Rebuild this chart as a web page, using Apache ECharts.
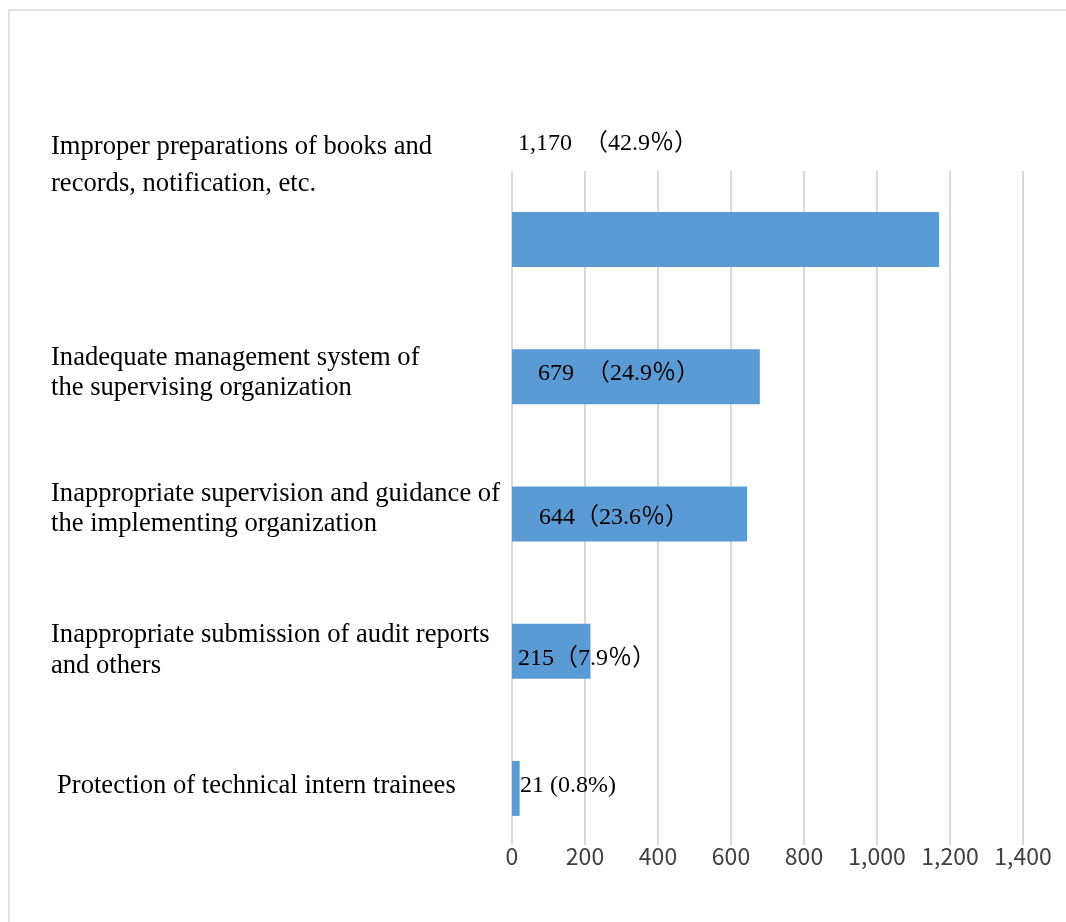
<!DOCTYPE html>
<html><head><meta charset="utf-8">
<script src="https://cdn.jsdelivr.net/npm/echarts@6/dist/echarts.min.js"></script>
<style>html,body{margin:0;padding:0;background:#fff}#c{width:1066px;height:922px}</style>
</head><body><div id="c"></div>
<script>
// ---- data ----
const categories = [
  'Improper preparations of books and\nrecords, notification, etc.',
  'Inadequate management system of\nthe supervising organization',
  'Inappropriate supervision and guidance of\nthe implementing organization',
  'Inappropriate submission of audit reports\nand others',
  'Protection of technical intern trainees'
];
const counts = [1170, 679, 644, 215, 21];
const valueLabels = ['1,170  （42.9％）', '679  （24.9％）', '644（23.6％）', '215（7.9％）', '21 (0.8%)'];
const xMin = 0, xMax = 1400, xStep = 200;

// ---- layout / style (not data) ----
const catLineHeights = [37, 30, 30, 31, 30];
const catSpacers = [149, 8, 10, 1, 4];
const catPadLeft = [0, 0, 0, 0, 6];
const valueLabelOffsets = [[1, -96], [21, -3], [22, 4], [1, 8], [3, -3]];

const serif = '"Liberation Serif", "Times New Roman", "Noto Sans CJK JP", serif';
const gothic = '"Noto Sans CJK JP", "Noto Sans", sans-serif';
const fmt = v => v.toLocaleString('en-US');

const rich = {};
catSpacers.forEach((s, i) => { rich['s' + i] = {lineHeight: s, fontSize: 1}; });

const chart = echarts.init(document.getElementById('c'), null, {renderer: 'canvas'});
chart.setOption({
  backgroundColor: '#ffffff',
  animation: false,
  graphic: [{
    type: 'rect', silent: true, z: -10,
    shape: {x: 9, y: 10, width: 1200, height: 1000},
    style: {fill: 'none', stroke: '#d9d9d9', lineWidth: 1.5}
  }],
  grid: [
    {left: 512, right: 43, top: 171, bottom: 65, containLabel: false, outerBoundsMode: 'none'},
    {left: 512, right: 43, top: 171, bottom: 77, containLabel: false, outerBoundsMode: 'none'}
  ],
  xAxis: [
    {gridIndex: 0, type: 'value', min: xMin, max: xMax, interval: xStep,
     axisLine: {show: false}, axisTick: {show: false}, axisLabel: {show: false}, splitLine: {show: false}},
    {gridIndex: 1, type: 'value', min: xMin, max: xMax, interval: xStep,
     axisLine: {show: false}, axisTick: {show: false},
     axisLabel: {show: true, margin: 0, color: '#404040', fontSize: 23, fontFamily: gothic,
                 formatter: v => fmt(v)},
     splitLine: {show: true, lineStyle: {color: '#d9d9d9', width: 2}}}
  ],
  yAxis: [
    {gridIndex: 0, type: 'category', inverse: true,
     data: categories.map((c, i) => ({value: c, textStyle: {align: 'left', lineHeight: catLineHeights[i], padding: [0, 0, 0, catPadLeft[i]]}})),
     axisLine: {show: false}, axisTick: {show: false}, splitLine: {show: false},
     axisLabel: {show: true, align: 'left', margin: 461, color: '#000', fontSize: 26.6,
                 fontFamily: serif, interval: 0, rich: rich,
                 formatter: (v, i) => v + '\n{s' + i + '|\u00a0}'}},
    {gridIndex: 1, type: 'value', min: 0, max: 1, show: false}
  ],
  series: [{
    type: 'bar', xAxisIndex: 0, yAxisIndex: 0,
    barWidth: 55,
    itemStyle: {color: '#5b9bd5'},
    data: counts.map((v, i) => ({
      value: v,
      label: {offset: valueLabelOffsets[i]}
    })),
    label: {
      show: true, position: 'insideLeft', distance: 5,
      color: '#000', fontSize: 24, fontFamily: serif,
      formatter: p => valueLabels[p.dataIndex]
    }
  }]
});
</script>
</body></html>
